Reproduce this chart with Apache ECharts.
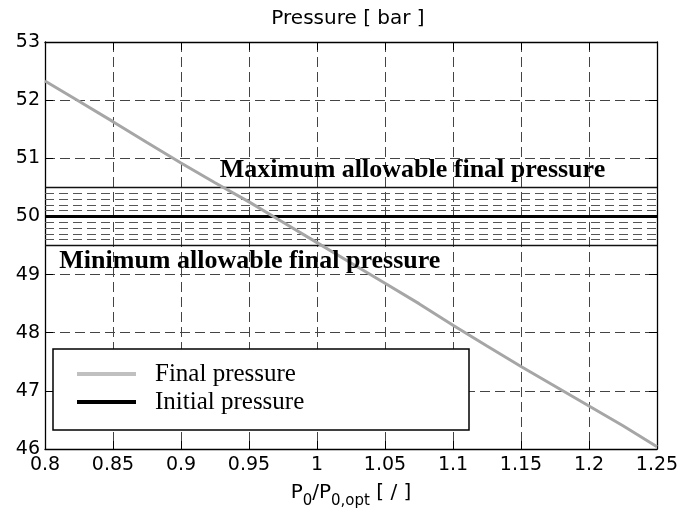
<!DOCTYPE html>
<html>
<head>
<meta charset="utf-8">
<script src="https://cdn.jsdelivr.net/npm/echarts@6/dist/echarts.min.js"></script>
<style>
  html, body { margin: 0; padding: 0; background: #fff; }
  #chart { width: 696px; height: 514px; }
</style>
</head>
<body>
<div id="chart"></div>
<script>
// Ratio of initial to optimal pressure
const ratio = [0.800, 0.825, 0.850, 0.875, 0.900, 0.925, 0.950, 0.975, 1.000,
               1.025, 1.050, 1.075, 1.100, 1.125, 1.150, 1.175, 1.200, 1.225, 1.250];
// Final pressure [bar]
const finalPressure = [52.33, 51.98, 51.63, 51.27, 50.92, 50.58, 50.25, 49.90, 49.55,
                       49.20, 48.85, 48.50, 48.13, 47.77, 47.42, 47.08, 46.74, 46.40, 46.04];
// Initial pressure [bar], drawn across the whole ratio range
const initialX = [0.8, 1.25];
const initialPressure = [50, 50];
// Allowed band limits and the finer band lines between them
const limitLines = [49.5, 50.5];
const bandLines = [49.6, 49.7, 49.8, 49.9, 50.1, 50.2, 50.3, 50.4];

const xTicks = { min: 0.8, max: 1.25, step: 0.05 };
const yTicks = { min: 46, max: 53, step: 1 };

const sans = 'DejaVu Sans';
const serif = 'Liberation Serif';

const chart = echarts.init(document.getElementById('chart'), null, { renderer: 'canvas' });

const gridDash = { color: '#444', width: 1, type: [10, 5] };
const fmt = v => String(parseFloat(v.toFixed(2)));

const markData = limitLines.map(v => ({
  yAxis: v, lineStyle: { color: '#111', width: 1.3, type: 'solid' }
})).concat(bandLines.map(v => ({
  yAxis: v, lineStyle: { color: '#555', width: 1, type: [9, 5] }
})));

chart.setOption({
  animation: false,
  backgroundColor: '#fff',
  title: {
    text: 'Pressure [ bar ]',
    left: 'center',
    top: 4,
    textStyle: { fontFamily: sans, fontSize: 20, fontWeight: 'normal', color: '#000' }
  },
  grid: { left: 45, right: 39, top: 42, bottom: 64 },
  legend: {
    left: 53, top: 349,
    orient: 'vertical',
    backgroundColor: '#fff',
    borderColor: '#000',
    borderWidth: 1.5,
    borderRadius: 0,
    padding: [11, 24, 14, 24],
    itemGap: 0,
    itemWidth: 59,
    itemHeight: 4,
    icon: 'rect',
    selectedMode: false,
    textStyle: {
      fontFamily: serif, fontSize: 25, color: '#000',
      lineHeight: 28, width: 290, padding: [0, 0, 0, 14]
    },
    data: ['Final pressure', 'Initial pressure']
  },
  xAxis: [{
    type: 'value',
    min: xTicks.min, max: xTicks.max, interval: xTicks.step,
    name: '{p|P}{s|0}{p|/P}{s|0,opt}{p| [ / ]}',
    nameLocation: 'middle',
    nameGap: 38,
    nameTextStyle: {
      rich: {
        p: { fontFamily: sans, fontSize: 20, color: '#000', verticalAlign: 'bottom', lineHeight: 22, padding: [0, 0, 6, 0] },
        s: { fontFamily: sans, fontSize: 15, color: '#000', verticalAlign: 'bottom', lineHeight: 18 }
      }
    },
    axisLine: { show: true, onZero: false, lineStyle: { color: '#000', width: 1.3 } },
    axisTick: { show: true, inside: true, length: 8, lineStyle: { color: '#000' } },
    axisLabel: { fontFamily: sans, fontSize: 19, color: '#000', margin: 7, formatter: fmt },
    splitLine: { show: true, lineStyle: gridDash }
  }, {
    type: 'value', position: 'top',
    min: xTicks.min, max: xTicks.max, interval: xTicks.step,
    axisLine: { show: true, onZero: false, lineStyle: { color: '#000', width: 1.3 } },
    axisTick: { show: true, inside: true, length: 8, lineStyle: { color: '#000' } },
    axisLabel: { show: false },
    splitLine: { show: false }
  }],
  yAxis: [{
    type: 'value',
    min: yTicks.min, max: yTicks.max, interval: yTicks.step,
    axisLine: { show: true, onZero: false, lineStyle: { color: '#000', width: 1.3 } },
    axisTick: { show: true, inside: true, length: 8, lineStyle: { color: '#000' } },
    axisLabel: { fontFamily: sans, fontSize: 19, color: '#000', margin: 5 },
    splitLine: { show: true, lineStyle: gridDash }
  }, {
    type: 'value', position: 'right',
    min: yTicks.min, max: yTicks.max, interval: yTicks.step,
    axisLine: { show: true, onZero: false, lineStyle: { color: '#000', width: 1.3 } },
    axisTick: { show: true, inside: true, length: 8, lineStyle: { color: '#000' } },
    axisLabel: { show: false },
    splitLine: { show: false }
  }],
  series: [{
    name: 'Initial pressure',
    type: 'line',
    data: initialX.map((x, i) => [x, initialPressure[i]]),
    color: '#000',
    lineStyle: { color: '#000', width: 3 },
    showSymbol: false,
    symbol: 'none',
    z: 3,
    markLine: {
      silent: true,
      symbol: 'none',
      label: { show: false },
      data: markData,
      z: 2
    }
  }, {
    name: 'Final pressure',
    type: 'line',
    data: ratio.map((x, i) => [x, finalPressure[i]]),
    color: '#c0c0c0',
    lineStyle: { color: '#a6a6a6', width: 3 },
    showSymbol: false,
    symbol: 'none',
    z: 4
  }]
});

// Limit captions anchored to the band limits
const maxPos = chart.convertToPixel({ xAxisIndex: 0, yAxisIndex: 0 }, [0.9285, limitLines[1]]);
const minPos = chart.convertToPixel({ xAxisIndex: 0, yAxisIndex: 0 }, [0.8105, limitLines[0]]);
chart.setOption({
  graphic: [{
    type: 'text', left: maxPos[0], top: maxPos[1] - 30, z: 10,
    style: { text: 'Maximum allowable final pressure', fontFamily: serif, fontWeight: 'bold', fontSize: 26, fill: '#000' }
  }, {
    type: 'text', left: minPos[0], top: minPos[1] + 3, z: 10,
    style: { text: 'Minimum allowable final pressure', fontFamily: serif, fontWeight: 'bold', fontSize: 26, fill: '#000' }
  }]
});
</script>
</body>
</html>
